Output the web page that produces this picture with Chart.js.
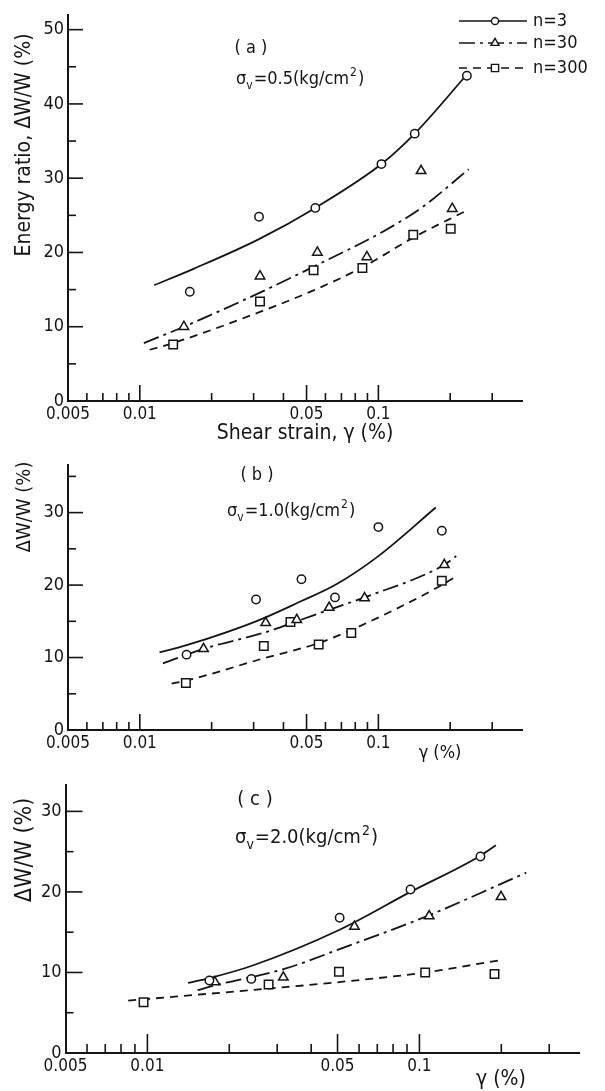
<!DOCTYPE html>
<html><head><meta charset="utf-8">
<script src="https://cdn.jsdelivr.net/npm/chart.js@4/dist/chart.umd.min.js"></script>
<style>
html,body{margin:0;padding:0;background:#fff;}
body{width:605px;height:1091px;position:relative;overflow:hidden;}
.p{position:absolute;left:0;width:605px;}
</style></head><body>
<div class="p" style="top:0;height:450px"><canvas id="ca"></canvas></div>
<div class="p" style="top:450px;height:320px"><canvas id="cb"></canvas></div>
<div class="p" style="top:770px;height:321px"><canvas id="cc"></canvas></div>
<script>
// ---------- tick definitions ----------
const xTickValues = [0.005,0.006,0.007,0.008,0.009,0.01,0.02,0.03,0.04,0.05,0.06,0.07,0.08,0.09,0.1,0.2,0.3];
const xLabelValues = [0.005, 0.01, 0.05, 0.1];
const xLabelTexts = ['0.005', '0.01', '0.05', '0.1'];
const xMajorValues = [0.01, 0.05, 0.1];
const aYTicks = [0,5,10,15,20,25,30,35,40,45,50];
const bYTicks = [0,5,10,15,20,25,30,35];
const cYTicks = [0,5,10,15,20,25,30];
const seriesLabels = ['n=3', 'n=30', 'n=300'];

// ---------- panel (a) sigma_v = 0.5 ----------
const aN3Strain   = [0.0162, 0.0316, 0.0544, 0.103, 0.142, 0.235];
const aN3Ratio    = [14.7, 24.8, 26.0, 31.9, 36.0, 43.8];
const aN30Strain  = [0.0153, 0.0319, 0.0555, 0.0895, 0.151, 0.204];
const aN30Ratio   = [10.0, 16.8, 20.0, 19.4, 31.0, 25.9];
const aN300Strain = [0.0138, 0.0319, 0.0535, 0.0857, 0.140, 0.201];
const aN300Ratio  = [7.6, 13.4, 17.6, 17.9, 22.4, 23.2];
const aFit3Strain   = [0.0115, 0.0168, 0.0316, 0.0544, 0.103, 0.142, 0.24];
const aFit3Ratio    = [15.6, 17.8, 21.8, 26.0, 31.9, 36.0, 44.3];
const aFit30Strain  = [0.0104, 0.0153, 0.0319, 0.0544, 0.1057, 0.1528, 0.239];
const aFit30Ratio   = [7.8, 10.0, 14.6, 18.2, 22.9, 26.1, 31.2];
const aFit300Strain = [0.0110, 0.0138, 0.0319, 0.0535, 0.0857, 0.140, 0.233];
const aFit300Ratio  = [6.9, 7.8, 12.0, 14.9, 18.0, 22.0, 25.6];

// ---------- panel (b) sigma_v = 1.0 ----------
const bN3Strain   = [0.0157, 0.0307, 0.0476, 0.0658, 0.100, 0.1845];
const bN3Ratio    = [10.4, 18.0, 20.8, 18.3, 28.0, 27.5];
const bN30Strain  = [0.0185, 0.0337, 0.0455, 0.0622, 0.0875, 0.189];
const bN30Ratio   = [11.2, 14.8, 15.2, 16.9, 18.2, 22.8];
const bN300Strain = [0.0156, 0.0331, 0.0428, 0.0562, 0.077, 0.1845];
const bN300Ratio  = [6.5, 11.6, 14.9, 11.8, 13.4, 20.6];
const bFit3Strain   = [0.0121, 0.0157, 0.0307, 0.0476, 0.0658, 0.100, 0.174];
const bFit3Ratio    = [10.7, 11.7, 15.0, 17.8, 20.0, 24.0, 30.7];
const bFit30Strain  = [0.0125, 0.0185, 0.0337, 0.0455, 0.0622, 0.0875, 0.189, 0.212];
const bFit30Ratio   = [9.2, 11.2, 13.5, 15.0, 16.6, 18.3, 22.8, 24.0];
const bFit300Strain = [0.0136, 0.0156, 0.0331, 0.0562, 0.077, 0.1845, 0.212];
const bFit300Ratio  = [6.4, 6.8, 9.9, 12.0, 13.8, 20.0, 21.2];

// ---------- panel (c) sigma_v = 2.0 ----------
const cN3Strain   = [0.0169, 0.0241, 0.0509, 0.0927, 0.1676];
const cN3Ratio    = [9.0, 9.2, 16.8, 20.3, 24.4];
const cN30Strain  = [0.0177, 0.0316, 0.0577, 0.1086, 0.1995];
const cN30Ratio   = [8.8, 9.4, 15.7, 17.0, 19.4];
const cN300Strain = [0.00968, 0.0279, 0.0506, 0.105, 0.1888];
const cN300Ratio  = [6.3, 8.5, 10.1, 10.0, 9.8];
const cFit3Strain   = [0.0141, 0.0169, 0.0241, 0.0509, 0.0927, 0.1676, 0.191];
const cFit3Ratio    = [8.7, 9.3, 10.8, 15.3, 20.0, 24.5, 25.8];
const cFit30Strain  = [0.0153, 0.0177, 0.0316, 0.0509, 0.1086, 0.1995, 0.247];
const cFit30Ratio   = [7.8, 8.4, 10.4, 12.9, 17.1, 21.0, 22.4];
const cFit300Strain = [0.0085, 0.0279, 0.0506, 0.105, 0.196];
const cFit300Ratio  = [6.5, 8.0, 8.8, 10.0, 11.5];

// ---------- styles ----------
const INK = '#151515';
const FONT = '"DejaVu Sans Condensed", "DejaVu Sans", sans-serif';
const STYLES = [
  {pointStyle: 'circle',   radius: 4.2, dash: []},
  {pointStyle: 'triangle', radius: 5.5, dash: [16, 5, 3, 5]},
  {pointStyle: 'rect',     radius: 6.0, dash: [8, 6]}
];

function zip(xs, ys) { return xs.map((x, i) => ({x: x, y: ys[i]})); }
function near(a, b) { return Math.abs(a - b) < 1e-9; }

function buildDatasets(points, fits) {
  const ds = [];
  fits.forEach((f, i) => ds.push({
    label: seriesLabels[i] + ' fit', data: zip(f[0], f[1]), showLine: true,
    borderColor: INK, borderWidth: 1.8, borderDash: STYLES[i].dash,
    pointRadius: 0, pointHoverRadius: 0, cubicInterpolationMode: 'monotone', fill: false, order: 2
  }));
  points.forEach((p, i) => ds.push({
    label: seriesLabels[i], data: zip(p[0], p[1]), showLine: false,
    pointStyle: STYLES[i].pointStyle, pointRadius: STYLES[i].radius, pointHoverRadius: STYLES[i].radius,
    pointBorderWidth: 1.5, pointBorderColor: INK, pointBackgroundColor: '#fff', order: 1
  }));
  return ds;
}

function line(ctx, x1, y1, x2, y2) { ctx.beginPath(); ctx.moveTo(x1, y1); ctx.lineTo(x2, y2); ctx.stroke(); }

function drawSigma(ctx, x, y, size, value) {
  ctx.textAlign = 'left'; ctx.textBaseline = 'alphabetic'; ctx.fillStyle = INK;
  let cx = x;
  const big = size + 'px ' + FONT, small = Math.round(size * 0.68) + 'px ' + FONT;
  ctx.font = big; ctx.fillText('σ', cx, y); cx += ctx.measureText('σ').width;
  ctx.font = small; ctx.fillText('v', cx, y + size * 0.28); cx += ctx.measureText('v').width + 1;
  ctx.font = big; const s = '=' + value + '(kg/cm'; ctx.fillText(s, cx, y); cx += ctx.measureText(s).width + 1;
  ctx.font = small; ctx.fillText('2', cx, y - size * 0.42); cx += ctx.measureText('2').width + 1;
  ctx.font = big; ctx.fillText(')', cx, y);
}

function drawText(ctx, text, x, y, size, rot) {
  ctx.save(); ctx.translate(x, y); if (rot) ctx.rotate(rot);
  ctx.font = size + 'px ' + FONT; ctx.fillStyle = INK; ctx.textAlign = 'center'; ctx.textBaseline = 'middle';
  ctx.fillText(text, 0, 0); ctx.restore();
}

const panelPlugin = {
  id: 'panelDecor',
  afterDatasetsDraw(chart) {
    const cfg = chart.options.plugins.panelDecor;
    const ctx = chart.ctx, xs = chart.scales.x, ys = chart.scales.y;
    const ax = chart.chartArea.left, ay = chart.chartArea.bottom;
    ctx.save();
    ctx.strokeStyle = INK; ctx.lineWidth = 1.6; ctx.setLineDash([]);
    ys.ticks.forEach(t => {
      if (t.value === 0) return;
      const py = ys.getPixelForValue(t.value);
      line(ctx, ax, py, ax + (t.value % 10 === 0 ? cfg.yMajLen : cfg.yMinLen), py);
    });
    xs.ticks.forEach(t => {
      if (t.value <= 0.005 + 1e-9) return;
      const px = xs.getPixelForValue(t.value);
      const major = xMajorValues.some(v => near(v, t.value));
      line(ctx, px, ay, px, ay - (major ? cfg.xMajLen : cfg.xMinLen));
    });
    // annotations
    drawText(ctx, cfg.tag, cfg.tagX, cfg.tagY, cfg.tagSize);
    drawSigma(ctx, cfg.sigX, cfg.sigY, cfg.sigSize, cfg.sigValue);
    drawText(ctx, cfg.yTitle, cfg.yTitleX, cfg.yTitleY, cfg.yTitleSize, -Math.PI / 2);
    drawText(ctx, cfg.xTitle, cfg.xTitleX, cfg.xTitleY, cfg.xTitleSize);
    // legend
    if (cfg.legend) {
      const rows = [21, 43, 68];
      rows.forEach((ry, i) => {
        ctx.setLineDash(STYLES[i].dash); ctx.lineWidth = 1.6; ctx.strokeStyle = INK;
        line(ctx, 459, ry, 527, ry);
        ctx.setLineDash([]); ctx.lineWidth = 1.4; ctx.fillStyle = '#fff';
        Chart.helpers.drawPoint(ctx, {pointStyle: STYLES[i].pointStyle, radius: STYLES[i].radius * 0.85, rotation: 0, borderWidth: 1.4}, 495, ry);
        ctx.font = '18px ' + FONT; ctx.fillStyle = INK; ctx.textAlign = 'left'; ctx.textBaseline = 'middle';
        ctx.fillText(seriesLabels[i], 533, ry);
      });
    }
    ctx.restore();
  }
};

function makeChart(id, p) {
  return new Chart(document.getElementById(id), {
    type: 'scatter',
    data: {datasets: buildDatasets(p.points, p.fits)},
    options: {
      responsive: true, maintainAspectRatio: false, animation: false, events: [],
      layout: {padding: {left: 0, right: p.padRight, top: p.padTop, bottom: 0}},
      plugins: {legend: {display: false}, tooltip: {enabled: false}, panelDecor: p.decor},
      scales: {
        x: {
          type: 'logarithmic', min: 0.005, max: p.xMax,
          afterBuildTicks: s => { s.ticks = xTickValues.map(v => ({value: v})); },
          afterFit: s => { s.height = p.xH; },
          grid: {display: false, drawTicks: false},
          border: {display: true, color: INK, width: 2},
          ticks: {autoSkip: false, maxRotation: 0, minRotation: 0, padding: 3, color: INK,
            font: {family: FONT, size: 17}, major: {enabled: false},
            callback: v => { const i = xLabelValues.findIndex(w => near(w, v)); return i >= 0 ? xLabelTexts[i] : ''; }}
        },
        y: {
          type: 'linear', min: 0, max: p.yMax,
          afterBuildTicks: s => { s.ticks = p.yTicks.map(v => ({value: v})); },
          afterFit: s => { s.width = p.yW; },
          grid: {display: false, drawTicks: false},
          border: {display: true, color: INK, width: 2},
          ticks: {padding: 4, color: INK, font: {family: FONT, size: 18},
            callback: v => (v % 10 === 0 ? String(v) : '')}
        }
      }
    },
    plugins: [panelPlugin]
  });
}

makeChart('ca', {
  points: [[aN3Strain, aN3Ratio], [aN30Strain, aN30Ratio], [aN300Strain, aN300Ratio]],
  fits: [[aFit3Strain, aFit3Ratio], [aFit30Strain, aFit30Ratio], [aFit300Strain, aFit300Ratio]],
  xMax: 0.4, yMax: 52, yTicks: aYTicks, yW: 68, xH: 49, padTop: 10, padRight: 83,
  decor: {yMajLen: 15, yMinLen: 8, xMajLen: 16, xMinLen: 8, tag: '( a )', tagX: 251, tagY: 48, tagSize: 18,
    sigX: 236, sigY: 84, sigSize: 18, sigValue: '0.5',
    yTitle: 'Energy ratio, ΔW/W (%)', yTitleX: 25, yTitleY: 145, yTitleSize: 21,
    xTitle: 'Shear strain, γ (%)', xTitleX: 305, xTitleY: 434, xTitleSize: 21, legend: true}
});
makeChart('cb', {
  points: [[bN3Strain, bN3Ratio], [bN30Strain, bN30Ratio], [bN300Strain, bN300Ratio]],
  fits: [[bFit3Strain, bFit3Ratio], [bFit30Strain, bFit30Ratio], [bFit300Strain, bFit300Ratio]],
  xMax: 0.4, yMax: 36.6, yTicks: bYTicks, yW: 68, xH: 40, padTop: 5, padRight: 83,
  decor: {yMajLen: 15, yMinLen: 8, xMajLen: 16, xMinLen: 8, tag: '( b )', tagX: 257, tagY: 25, tagSize: 18,
    sigX: 227, sigY: 66, sigSize: 18, sigValue: '1.0',
    yTitle: 'ΔW/W (%)', yTitleX: 25, yTitleY: 57, yTitleSize: 20,
    xTitle: 'γ (%)', xTitleX: 440, xTitleY: 303, xTitleSize: 18, legend: false}
});
makeChart('cc', {
  points: [[cN3Strain, cN3Ratio], [cN30Strain, cN30Ratio], [cN300Strain, cN300Ratio]],
  fits: [[cFit3Strain, cFit3Ratio], [cFit30Strain, cFit30Ratio], [cFit300Strain, cFit300Ratio]],
  xMax: 0.386, yMax: 33.3, yTicks: cYTicks, yW: 65.5, xH: 38, padTop: 5, padRight: 26,
  decor: {yMajLen: 17, yMinLen: 8, xMajLen: 19, xMinLen: 9, tag: '( c )', tagX: 255, tagY: 30, tagSize: 20,
    sigX: 235, sigY: 73, sigSize: 20, sigValue: '2.0',
    yTitle: 'ΔW/W (%)', yTitleX: 25, yTitleY: 80, yTitleSize: 23,
    xTitle: 'γ (%)', xTitleX: 501, xTitleY: 310, xTitleSize: 21, legend: false}
});
</script>
</body></html>
